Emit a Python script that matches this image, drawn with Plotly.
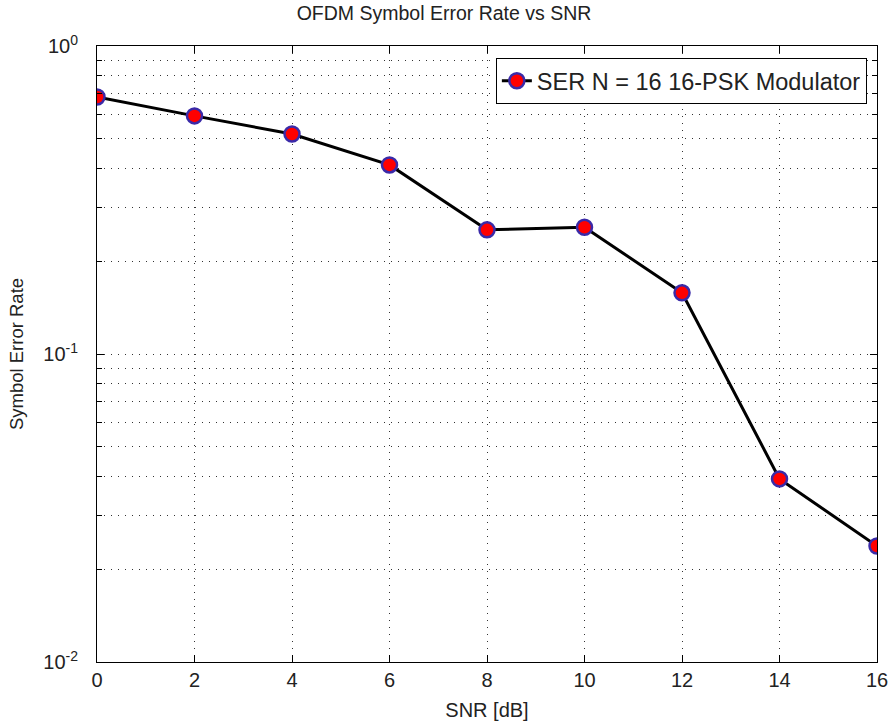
import plotly.graph_objects as go

snr_db = [0, 2, 4, 6, 8, 10, 12, 14, 16]
ser = [0.683, 0.593, 0.518, 0.411, 0.253, 0.258, 0.158, 0.0393, 0.0238]
series_name = "SER N = 16 16-PSK Modulator"
x_ticks = [0, 2, 4, 6, 8, 10, 12, 14, 16]
y_decades = [0.01, 0.1, 1]
y_decade_labels = ["10<sup>-2</sup>", "10<sup>-1</sup>", "10<sup>0</sup>"]
y_minor = [0.02, 0.03, 0.04, 0.05, 0.06, 0.07, 0.08, 0.09,
           0.2, 0.3, 0.4, 0.5, 0.6, 0.7, 0.8, 0.9]

fig = go.Figure()
fig.add_trace(go.Scatter(
    x=snr_db, y=ser, mode="lines+markers", name=series_name,
    line=dict(color="black", width=3),
    marker=dict(size=15, color="#ff0000", line=dict(color="#3a2aa8", width=2.5)),
))

W, H = 888, 727
font = dict(family="Liberation Sans, Arial, sans-serif", size=20, color="#222")
grid = dict(showgrid=True, gridcolor="#333", griddash="1px,6px", gridwidth=1.2)
fig.update_layout(
    width=W, height=H, autosize=False,
    margin=dict(l=97, r=11, t=46, b=65),
    paper_bgcolor="white", plot_bgcolor="white",
    font=font,
    title=dict(text="OFDM Symbol Error Rate vs SNR", x=0.5, xanchor="center",
               y=1 - 13 / H, yanchor="middle", font=dict(size=19.5)),
    showlegend=True,
    legend=dict(x=0.987, y=0.9805, xanchor="right", yanchor="top",
                bgcolor="white", bordercolor="black", borderwidth=1,
                itemwidth=30, font=dict(size=23.5)),
)
fig.update_xaxes(
    range=[0, 16], tickvals=x_ticks, ticktext=[str(v) for v in x_ticks],
    title=dict(text="SNR [dB]", standoff=12, font=dict(size=20)),
    ticklabeloverflow="allow", automargin=False,
    showline=True, linecolor="black", linewidth=1, mirror="ticks",
    ticks="inside", ticklen=7, tickcolor="black",
    zeroline=False, **grid,
)
fig.update_yaxes(
    type="log", range=[-2, 0], tickvals=y_decades, ticktext=y_decade_labels,
    title=dict(text="Symbol Error Rate", standoff=14, font=dict(size=18.5)),
    ticklabelstandoff=14, automargin=False,
    showline=True, linecolor="black", linewidth=1, mirror="ticks",
    ticks="inside", ticklen=7, tickcolor="black",
    zeroline=False, **grid,
    minor=dict(tickvals=y_minor, ticks="inside", ticklen=5, tickcolor="black",
               showgrid=True, gridcolor="#333", griddash="1px,6px", gridwidth=1.2),
)
fig.write_html("out.html", config={"displayModeBar": False},
               post_script="document.body.style.margin='0px';")
